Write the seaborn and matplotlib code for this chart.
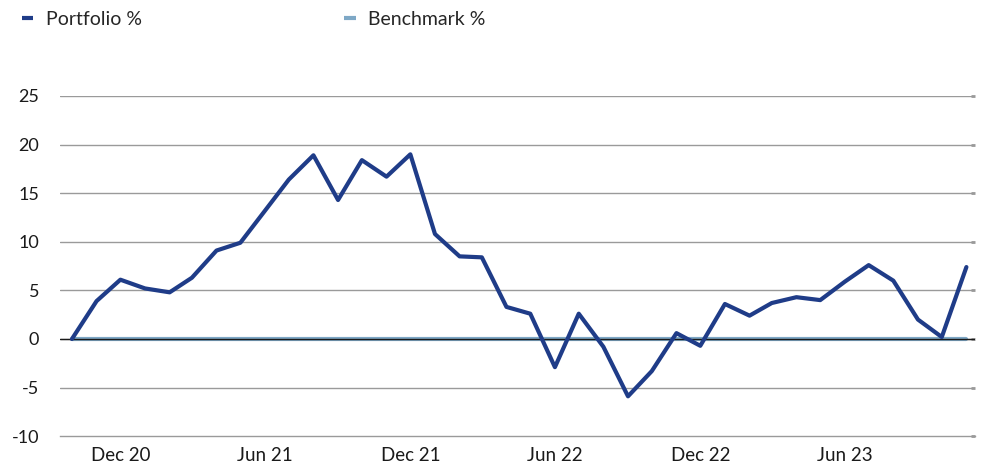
import pandas as pd
import matplotlib.pyplot as plt
import seaborn as sns
from matplotlib.lines import Line2D


# -------------------------------------------------------
# Data (monthly, Oct 2020 - Nov 2023)
# -------------------------------------------------------
months = pd.date_range("2020-10-01", "2023-11-01", freq="MS")
portfolio = [0.0, 3.9, 6.1, 5.2, 4.8, 6.3, 9.1, 9.9, 13.2, 16.4, 18.9, 14.3,
             18.4, 16.7, 19.0, 10.8, 8.5, 8.4, 3.3, 2.6, -2.9, 2.6, -0.8, -5.9,
             -3.3, 0.6, -0.7, 3.6, 2.4, 3.7, 4.3, 4.0, 5.9, 7.6, 6.0, 2.0,
             0.2, 7.4]
benchmark = [0.0] * len(portfolio)
tick_dates = pd.to_datetime(["2020-12-01", "2021-06-01", "2021-12-01",
                             "2022-06-01", "2022-12-01", "2023-06-01"])
tick_labels = ["Dec 20", "Jun 21", "Dec 21", "Jun 22", "Dec 22", "Jun 23"]
y_ticks = [-10, -5, 0, 5, 10, 15, 20, 25]

df = pd.DataFrame({"Date": months, "Portfolio": portfolio, "Benchmark": benchmark})

navy = "#1f3c88"
light = "#7ea8c6"

sns.set_style("white")
plt.rcParams["font.family"] = ["Lato", "DejaVu Sans"]
plt.rcParams["axes.unicode_minus"] = False

fig = plt.figure(figsize=(9.84, 4.66), dpi=100)
ax = fig.add_axes([0.061, 0.064, 0.93, 0.73])

# gridlines
for v in y_ticks:
    if v == -10:
        continue
    ax.axhline(v, color="#9a9a9a", lw=1.0, zorder=1)

sns.lineplot(data=df, x="Date", y="Benchmark", ax=ax, color=light, lw=3, zorder=2)
ax.axhline(0, color="#1a1a1a", lw=1.0, zorder=3)
sns.lineplot(data=df, x="Date", y="Portfolio", ax=ax, color=navy, lw=3, zorder=4)

ax.set_ylim(-10, 25)
ax.set_xlim(pd.Timestamp("2020-09-16"), pd.Timestamp("2023-11-12"))
ax.set_yticks(y_ticks)
ax.set_xticks(tick_dates)
ax.set_xticklabels(tick_labels)
ax.set_xlabel("")
ax.set_ylabel("")

for s in ["top", "right", "left"]:
    ax.spines[s].set_visible(False)
ax.spines["bottom"].set_color("#9a9a9a")
ax.spines["bottom"].set_linewidth(1.0)

ax.tick_params(axis="x", length=6, width=1, color="#9a9a9a", labelsize=13.5,
               labelcolor="#1a1a1a", pad=2)
ax.tick_params(axis="y", length=3, width=2, color="#9a9a9a", labelsize=13,
               labelcolor="#1a1a1a", pad=15, right=True, direction="in")

handles = [Line2D([], [], color=navy, lw=3, solid_capstyle="butt"),
           Line2D([], [], color=light, lw=3, solid_capstyle="butt")]
fig.legend(handles, ["Portfolio %", "Benchmark %"], loc="upper left",
           bbox_to_anchor=(0.016, 0.989), borderaxespad=0.1, borderpad=0.2,
           ncol=2, frameon=False, fontsize=14,
           handlelength=0.6, handletextpad=0.65, columnspacing=10.4)

plt.savefig("out.png", dpi=100)
